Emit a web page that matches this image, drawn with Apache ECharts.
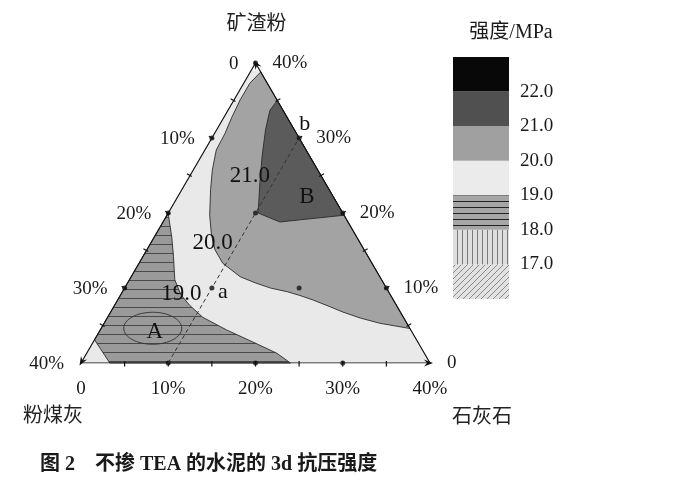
<!DOCTYPE html>
<html><head><meta charset="utf-8">
<script src="https://cdn.jsdelivr.net/npm/echarts@6/dist/echarts.min.js"></script>
<style>html,body{margin:0;padding:0;background:#fff}#c{width:697px;height:481px}</style>
</head><body><div id="c"></div><script>
// Ternary composition points: [石灰石 %, 矿渣粉 %]; 粉煤灰 = 40 - 石灰石 - 矿渣粉
const axisTicks = [0, 10, 20, 30, 40];
const minorTicks = [5, 15, 25, 35];
const axisNames = ['矿渣粉', '粉煤灰', '石灰石'];
// contour bands
const lightRegion = [[0,0],[40,0],[1.0,39.0],[0,39.0]];                     // 19.0-20.0
const midRegion = [[1.2,38.8],[0.7,37.3],[0.7,35.1],[0.9,32.8],[1.2,30.6],[1.3,28.4],[2.2,25.7],[3.3,23.1],[4.9,19.7],[6.4,17.1],[7.8,15.1],[9.6,13.3],[12.5,11.5],[14.6,10.7],[16.7,10.0],[18.9,9.5],[20.6,9.0],[22.4,8.4],[24.8,7.5],[26.6,6.8],[29.0,6.0],[31.6,5.3],[35.4,4.6]]; // 20.0-21.0
const darkRegion = [[5.0,35.0],[4.8,33.7],[5.6,31.1],[7.0,27.5],[8.5,24.0],[10.3,20.0],[13.4,18.8],[15.6,19.1],[20.3,19.7]]; // 21.0-22.0
const hatchRegion = [[0,20],[0.3,19.5],[2.0,16.8],[3.5,14.2],[5.2,11.1],[6.9,9.1],[8.6,7.7],[10.9,6.1],[14.5,4.4],[18.3,2.8],[21.8,1.3],[24.0,0],[3.3,0],[0,3.1]]; // 18.0-19.0
const designPoints = [[0,40],[0,30],[0,20],[0,10],[10,30],[20,20],[30,10],[10,0],[20,0],[30,0],[10,20],[10,10],[20,10]];
const sectionLine = [[10,0],[10,30]];
const contourLabels = ['21.0', '20.0', '19.0'];
const contourLabelPos = [[6.9,24.9],[7.1,16.0],[6.9,9.2]];
const zoneLabels = ['A', 'B'];
const zoneLabelPos = [[6.4,4.1],[14.8,22.2]];
const pointLabels = ['a', 'b'];
const pointLabelPos = [[11.5,9.5],[9.7,31.9]];
const legendLevels = [16, 17, 18, 19, 20, 21, 22, 23];
const legendTicks = [17, 18, 19, 20, 21, 22];
const legendTitle = '强度/MPa';
const caption = '图 2　不掺 TEA 的水泥的 3d 抗压强度';

const SQ = Math.sqrt(3) / 2;
const toXY = p => [p[0] + p[1] / 2, p[1] * SQ];
const SERIF = "'Liberation Serif','Noto Sans CJK SC',serif";
const CJK = "'Noto Sans CJK SC',sans-serif";

function mkPattern(w, h, bg, fg, draw) {
  const c = document.createElement('canvas'); c.width = w; c.height = h;
  const g = c.getContext('2d'); g.fillStyle = bg; g.fillRect(0, 0, w, h);
  g.fillStyle = fg; g.strokeStyle = fg; draw(g);
  return { image: c, repeat: 'repeat' };
}
const hatchChart = mkPattern(1, 9, '#9a9a9a', '#4a4a4a', g => g.fillRect(0, 1, 1, 1));
const hatchLegend = mkPattern(1, 6, '#a6a6a6', '#222222', g => g.fillRect(0, 3, 1, 1));
const vertLegend = mkPattern(5, 1, '#dedede', '#7a7a7a', g => g.fillRect(2, 0, 1, 1));
const diagLegend = mkPattern(6, 6, '#e2e2e2', '#8a8a8a', g => {
  g.lineWidth = 1; g.beginPath();
  g.moveTo(-1, 7); g.lineTo(7, -1);
  g.moveTo(-1, 1); g.lineTo(1, -1);
  g.moveTo(5, 7); g.lineTo(7, 5);
  g.stroke();
});

const regionDefs = [
  { pts: lightRegion, fill: '#e9e9e9', stroke: null },
  { pts: midRegion, fill: '#a3a3a3', stroke: '#2a2a2a' },
  { pts: darkRegion, fill: '#5b5b5b', stroke: '#2a2a2a' },
  { pts: hatchRegion, fill: hatchChart, stroke: '#2a2a2a' }
];
const legendFills = [diagLegend, vertLegend, hatchLegend, '#ebebeb', '#a0a0a0', '#505050', '#080808'];

// ternary axis labels
const labelSpecs = [];
axisTicks.forEach(t => {
  const txt = t === 0 ? '0' : t + '%';
  labelSpecs.push({ p: [0, 40 - t], text: txt, dx: -17, dy: 1, align: 'right' });      // 粉煤灰 (left edge)
  labelSpecs.push({ p: [40 - t, t], text: txt, dx: 17, dy: 0.5, align: 'left' });      // 矿渣粉 (right edge)
  labelSpecs.push({ p: [t, 0], text: txt, dx: 0, dy: 26, align: 'center' });           // 石灰石 (bottom)
});
const nameSpecs = [
  { p: [0, 40], text: axisNames[0], dx: 1, dy: -41 },
  { p: [0, 0], text: axisNames[1], dx: -28, dy: 51 },
  { p: [40, 0], text: axisNames[2], dx: 52, dy: 52 }
];
// ticks on the three edges
const tickSpecs = [];
axisTicks.concat(minorTicks).forEach(t => {
  if (t === 0 || t === 40) return;
  tickSpecs.push({ p: [0, 40 - t], n: [-SQ, -0.5] });
  tickSpecs.push({ p: [40 - t, t], n: [SQ, -0.5] });
  tickSpecs.push({ p: [t, 0], n: [0, 1] });
});
const arrowSpecs = [
  { p: [0, 0], d: [-0.5, SQ] },
  { p: [40, 0], d: [1, 0] },
  { p: [0, 40], d: [-0.5, -SQ] }
];

const chart = echarts.init(document.getElementById('c'), null, { renderer: 'canvas' });
chart.setOption({
  animation: false,
  backgroundColor: '#fff',
  grid: [
    { left: 81, top: 63, width: 349, height: 300 },
    { left: 453, top: 57, width: 56, height: 242 }
  ],
  xAxis: [
    { gridIndex: 0, type: 'value', min: 0, max: 40, show: false },
    { gridIndex: 1, type: 'value', min: 0, max: 1, show: false }
  ],
  yAxis: [
    { gridIndex: 0, type: 'value', min: 0, max: 40 * SQ, show: false },
    { gridIndex: 1, type: 'value', min: 16, max: 23, interval: 1, position: 'right',
      axisLine: { show: false }, axisTick: { show: false }, splitLine: { show: false },
      axisLabel: { margin: 11, color: '#1a1a1a', fontSize: 19, fontFamily: SERIF,
        formatter: v => legendTicks.includes(v) ? v.toFixed(1) : '' } }
  ],
  graphic: [
    { type: 'text', x: 511, y: 33, style: { text: legendTitle, font: "20px " + SERIF, fill: '#1a1a1a', align: 'center', verticalAlign: 'middle' } },
    { type: 'text', x: 40, y: 465, style: { text: caption, font: "bold 20px " + SERIF, fill: '#1a1a1a', align: 'left', verticalAlign: 'middle' } }
  ],
  series: [
    { type: 'custom', xAxisIndex: 0, yAxisIndex: 0, silent: true,
      data: regionDefs.map((r, i) => [i]),
      renderItem: (params, api) => {
        const r = regionDefs[params.dataIndex];
        return { type: 'polygon', shape: { points: r.pts.map(p => api.coord(toXY(p))) },
          style: { fill: r.fill, stroke: r.stroke || 'none', lineWidth: 0.9 } };
      } },
    { type: 'line', xAxisIndex: 0, yAxisIndex: 0, silent: true, symbol: 'none',
      data: [[0,0],[40,0],[0,40],[0,0]].map(toXY),
      lineStyle: { color: '#111', width: 1.2 } },
    { type: 'line', xAxisIndex: 0, yAxisIndex: 0, silent: true, symbol: 'none',
      data: sectionLine.map(toXY),
      lineStyle: { color: '#333', width: 1, type: [4, 3] } },
    { type: 'custom', xAxisIndex: 0, yAxisIndex: 0, silent: true,
      data: tickSpecs.map((t, i) => [i]),
      renderItem: (params, api) => {
        const t = tickSpecs[params.dataIndex]; const c = api.coord(toXY(t.p));
        return { type: 'line', shape: { x1: c[0] - t.n[0] * 2, y1: c[1] - t.n[1] * 2, x2: c[0] + t.n[0] * 3.5, y2: c[1] + t.n[1] * 3.5 },
          style: { stroke: '#111', lineWidth: 1.2 } };
      } },
    { type: 'custom', xAxisIndex: 0, yAxisIndex: 0, silent: true,
      data: arrowSpecs.map((a, i) => [i]),
      renderItem: (params, api) => {
        const a = arrowSpecs[params.dataIndex]; const c = api.coord(toXY(a.p));
        const d = a.d, n = [-d[1], d[0]];
        const tip = [c[0] + d[0] * 3, c[1] + d[1] * 3];
        const back = [tip[0] - d[0] * 9, tip[1] - d[1] * 9];
        const notch = [tip[0] - d[0] * 6, tip[1] - d[1] * 6];
        return { type: 'polygon', shape: { points: [tip, [back[0] + n[0] * 3.5, back[1] + n[1] * 3.5], notch, [back[0] - n[0] * 3.5, back[1] - n[1] * 3.5]] },
          style: { fill: '#111' } };
      } },
    { type: 'scatter', xAxisIndex: 0, yAxisIndex: 0, silent: true, symbolSize: 5,
      itemStyle: { color: '#111' }, data: designPoints.map(toXY) },
    { type: 'custom', xAxisIndex: 0, yAxisIndex: 0, silent: true,
      data: [[0]],
      renderItem: (params, api) => {
        const c = api.coord(toXY(zoneLabelPos[0]));
        return { type: 'ellipse', shape: { cx: c[0] - 2, cy: c[1] - 4, rx: 29, ry: 16 },
          style: { fill: 'none', stroke: '#3a3a3a', lineWidth: 1 } };
      } },
    { type: 'custom', xAxisIndex: 0, yAxisIndex: 0, silent: true,
      data: [].concat(
        contourLabels.map((t, i) => ({ value: [0], txt: t, p: contourLabelPos[i], size: 23 })),
        zoneLabels.map((t, i) => ({ value: [0], txt: t, p: zoneLabelPos[i], size: 23 })),
        pointLabels.map((t, i) => ({ value: [0], txt: t, p: pointLabelPos[i], size: 22 }))
      ),
      renderItem: (params, api) => {
        const specs = [].concat(
          contourLabels.map((t, i) => ({ txt: t, p: contourLabelPos[i], size: 23 })),
          zoneLabels.map((t, i) => ({ txt: t, p: zoneLabelPos[i], size: 23 })),
          pointLabels.map((t, i) => ({ txt: t, p: pointLabelPos[i], size: 22 })));
        const s = specs[params.dataIndex]; const c = api.coord(toXY(s.p));
        return { type: 'text', x: c[0], y: c[1], style: { text: s.txt, font: s.size + 'px ' + SERIF, fill: '#111', align: 'center', verticalAlign: 'middle' } };
      } },
    { type: 'custom', xAxisIndex: 0, yAxisIndex: 0, silent: true,
      data: labelSpecs.map((l, i) => [i]),
      renderItem: (params, api) => {
        const l = labelSpecs[params.dataIndex]; const c = api.coord(toXY(l.p));
        return { type: 'text', x: c[0] + l.dx, y: c[1] + l.dy, style: { text: l.text, font: '19px ' + SERIF, fill: '#1a1a1a', align: l.align, verticalAlign: 'middle' } };
      } },
    { type: 'custom', xAxisIndex: 0, yAxisIndex: 0, silent: true,
      data: nameSpecs.map((l, i) => [i]),
      renderItem: (params, api) => {
        const l = nameSpecs[params.dataIndex]; const c = api.coord(toXY(l.p));
        return { type: 'text', x: c[0] + l.dx, y: c[1] + l.dy, style: { text: l.text, font: '20px ' + CJK, fill: '#222', align: 'center', verticalAlign: 'middle' } };
      } },
    { type: 'custom', xAxisIndex: 1, yAxisIndex: 1, silent: true,
      data: legendLevels.slice(0, -1).map(v => [0.5, v + 0.5]),
      renderItem: (params, api) => {
        const i = params.dataIndex;
        const p1 = api.coord([0, legendLevels[i + 1]]), p2 = api.coord([1, legendLevels[i]]);
        return { type: 'rect', shape: { x: p1[0], y: p1[1], width: p2[0] - p1[0], height: p2[1] - p1[1] },
          style: { fill: legendFills[i] } };
      } }
  ]
});
</script></body></html>
